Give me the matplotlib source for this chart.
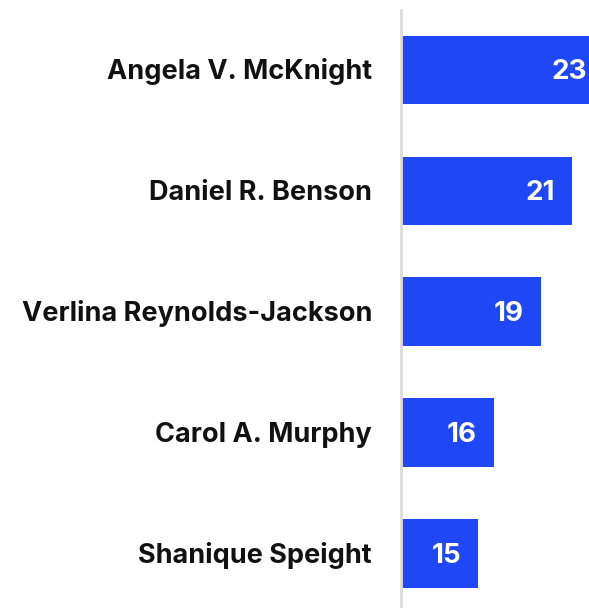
import matplotlib
matplotlib.use("Agg")
import matplotlib.pyplot as plt
from matplotlib.transforms import offset_copy

### DATA
names = ["Angela V. McKnight", "Daniel R. Benson", "Verlina Reynolds-Jackson",
         "Carol A. Murphy", "Shanique Speight"]
counts = [23, 21, 19, 16, 15]

### PLOT
plt.rcParams["font.family"] = ["Inter", "DejaVu Sans"]

fig = plt.figure(figsize=(5.89, 6.08), dpi=100)
# axes spans from the vertical rule to the right edge of the figure
ax = fig.add_axes([401 / 589, 0, 188 / 589, 598 / 608])

ypos = list(range(len(names)))
ax.barh(ypos, counts, height=0.566, color="#1f47f5", zorder=2)

# axis does not start at zero
ax.set_xlim(10.1, 22.07)
ax.set_ylim(4.45, -0.495)

ax.axvline(10.1, color="#dcdcdc", linewidth=2, zorder=3, clip_on=False)

name_trans = offset_copy(ax.get_yaxis_transform(), fig=fig, x=-29, y=-2, units="dots")
val_trans = offset_copy(ax.transData, fig=fig, x=-17, y=-2, units="dots")
for y, name, c in zip(ypos, names, counts):
    ax.text(0, y, name, transform=name_trans,
            ha="right", va="center", fontsize=19.5, fontweight="bold",
            color="#111111")
    ax.text(c, y, str(c), transform=val_trans, ha="right", va="center",
            fontsize=20, fontweight="bold", color="white", clip_on=False,
            zorder=4)

ax.set_xticks([])
ax.set_yticks([])
for s in ax.spines.values():
    s.set_visible(False)

fig.savefig("out.png", dpi=100)
